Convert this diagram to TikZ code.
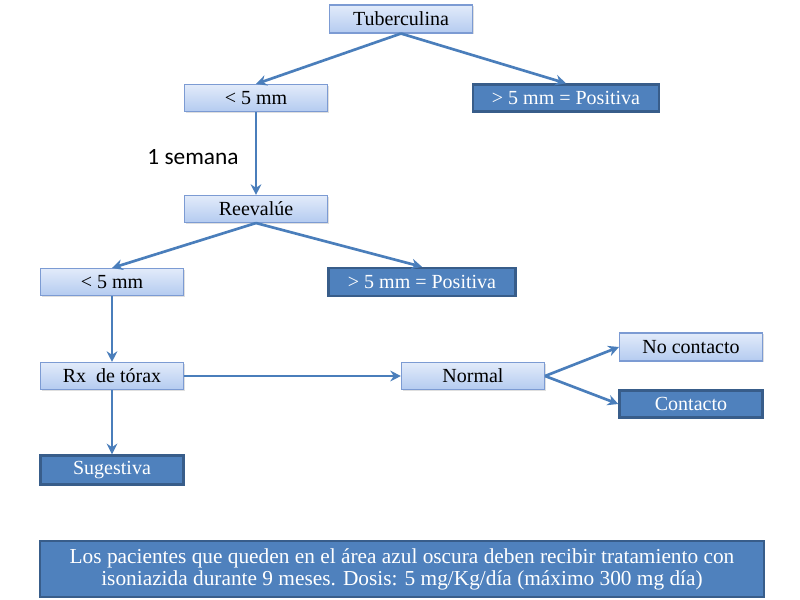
\documentclass[tikz,border=0pt]{standalone}
\usepackage{fontspec}
\setmainfont{Liberation Serif}
\newfontfamily\labfont{Carlito}
\usetikzlibrary{arrows.meta,shadows}
\definecolor{lightA}{HTML}{E2EBFA}
\definecolor{lightB}{HTML}{B4CBF0}
\definecolor{lightEdge}{HTML}{7C9BD3}
\definecolor{darkFill}{HTML}{4F81BD}
\definecolor{darkEdge}{HTML}{385D8A}
\definecolor{arrowC}{HTML}{4A7EBB}
\begin{document}
\begin{tikzpicture}[x=0.75pt,y=-0.75pt,
  lightbox/.style={draw=lightEdge,line width=0.8pt,top color=lightA,bottom color=lightB,
    minimum width=143*0.75pt,minimum height=27*0.75pt,inner sep=0pt,font=\fontsize{15}{17}\selectfont,
    drop shadow={shadow xshift=1pt,shadow yshift=-1pt,opacity=0.25}},
  darkbox/.style={draw=darkEdge,line width=1.8pt,fill=darkFill,text=white,
    minimum width=143*0.75pt,minimum height=27*0.75pt,inner sep=0pt,font=\fontsize{15}{17}\selectfont,
    drop shadow={shadow xshift=1pt,shadow yshift=-1pt,opacity=0.25}},
  conn/.style={draw=arrowC,line width=2pt,-{Stealth[length=8pt,width=8pt]}}]
\useasboundingbox (0,0) rectangle (800,600);
\node[lightbox,minimum height=28*0.75pt] (tub) at (401,19) {Tuberculina};
\node[lightbox] (a1) at (256,98) {< 5 mm};
\node[darkbox,minimum width=186*0.75pt] (p1) at (566,98) {> 5 mm = Positiva};
\node[lightbox] (re) at (256,209) {Reevalúe};
\node[lightbox] (a2) at (112,282) {< 5 mm};
\node[darkbox,minimum width=187*0.75pt,minimum height=28*0.75pt] (p2) at (422,282) {> 5 mm = Positiva};
\node[lightbox] (rx) at (112,376) {Rx~ de tórax};
\node[lightbox] (no) at (473,376) {Normal};
\node[lightbox,minimum height=28*0.75pt] (nc) at (691,347) {No contacto};
\node[darkbox] (co) at (691,404) {Contacto};
\node[darkbox,minimum height=29*0.75pt] (su) at (112,470) {Sugestiva};
\node[darkbox,minimum width=724*0.75pt,minimum height=56*0.75pt,align=center,
  font=\fontsize{16}{16.5}\selectfont] (nt) at (402,569)
  {Los pacientes que queden en el área azul oscura deben recibir tratamiento con\\
   isoniazida durante 9 meses. Dosis: 5 mg/Kg/día (máximo 300 mg día)};
\node[font=\labfont\fontsize{17.5}{20}\selectfont,anchor=center] (sem) at (193,157) {1 semana};
\draw[conn] (tub.south) -- (a1.north);
\draw[conn] (tub.south) -- (p1.north);
\draw[conn] (a1.south) -- (re.north);
\draw[conn] (re.south) -- (a2.north);
\draw[conn] (re.south) -- (p2.north);
\draw[conn] (a2.south) -- (rx.north);
\draw[conn] (rx.east) -- (no.west);
\draw[conn] (no.east) -- (nc.west);
\draw[conn] (no.east) -- (co.west);
\draw[conn] (rx.south) -- (su.north);
\end{tikzpicture}
\end{document}
